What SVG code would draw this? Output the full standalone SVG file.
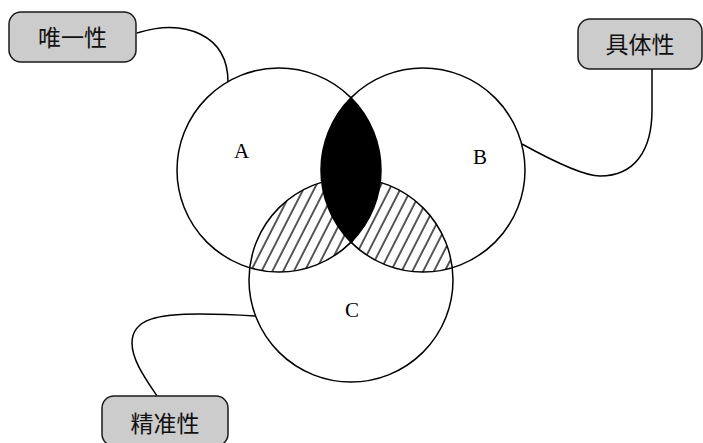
<svg xmlns="http://www.w3.org/2000/svg" width="703" height="443" viewBox="0 0 703 443">
<style>
.circ{fill:none;stroke:#000;stroke-width:1.5}
.box{fill:#cccccc;stroke:#1a1a1a;stroke-width:1.5}
.cn{fill:none;stroke:#000;stroke-width:1.5}
.lbl{font-family:"Liberation Serif","Times New Roman",serif;font-size:21px;fill:#000;text-anchor:middle}
.cjk{font-family:"Noto Sans CJK SC","Noto Sans CJK JP",sans-serif;font-size:23px;fill:#111;text-anchor:middle}
</style>
<defs>
<pattern id="hatch" patternUnits="userSpaceOnUse" width="9.6" height="20" patternTransform="rotate(27)">
<line x1="1" y1="-2" x2="1" y2="22" stroke="#000" stroke-width="1.3"/>
</pattern>
<clipPath id="clipA"><circle cx="279" cy="170" r="102"/></clipPath>
<clipPath id="clipB"><circle cx="423" cy="170" r="102"/></clipPath>
<clipPath id="clipC"><circle cx="351" cy="280" r="102"/></clipPath>
</defs>
<rect width="703" height="443" fill="#fff"/>
<g id="regions">
<g clip-path="url(#clipA)"><rect x="170" y="60" width="370" height="330" fill="url(#hatch)" clip-path="url(#clipC)"/></g>
<g clip-path="url(#clipB)"><rect x="170" y="60" width="370" height="330" fill="url(#hatch)" clip-path="url(#clipC)"/></g>
<path d="M351,97.75 A102,102 0 0,1 351,242.25 A102,102 0 0,1 351,97.75 Z" fill="#000"/>
</g>
<g id="connectors">
<path class="cn" d="M137,33 C185,18 228,35 228,82"/>
<path class="cn" d="M652,69 L652,110 C652,150 635,176 600,176 C585,176 560,165 522,144"/>
<path class="cn" d="M157,396 C145,378 132,360 132,343 C132,318 160,314 200,314 C225,314 240,315 255,316"/>
</g>
<g id="A"><circle class="circ" cx="279" cy="170" r="102"/><text class="lbl" x="241.5" y="158">A</text></g>
<g id="B"><circle class="circ" cx="423" cy="170" r="102"/><text class="lbl" x="480" y="164">B</text></g>
<g id="C"><circle class="circ" cx="351" cy="280" r="102"/><text class="lbl" x="352" y="317">C</text></g>
<g id="n1"><rect class="box" x="9" y="12" width="127" height="50" rx="12"/><text class="cjk" x="72.5" y="46">唯一性</text></g>
<g id="n2"><rect class="box" x="578" y="19" width="124" height="50" rx="12"/><text class="cjk" x="640" y="53">具体性</text></g>
<g id="n3"><rect class="box" x="102" y="396" width="126" height="50" rx="12"/><text class="cjk" x="165" y="432">精准性</text></g>
</svg>
